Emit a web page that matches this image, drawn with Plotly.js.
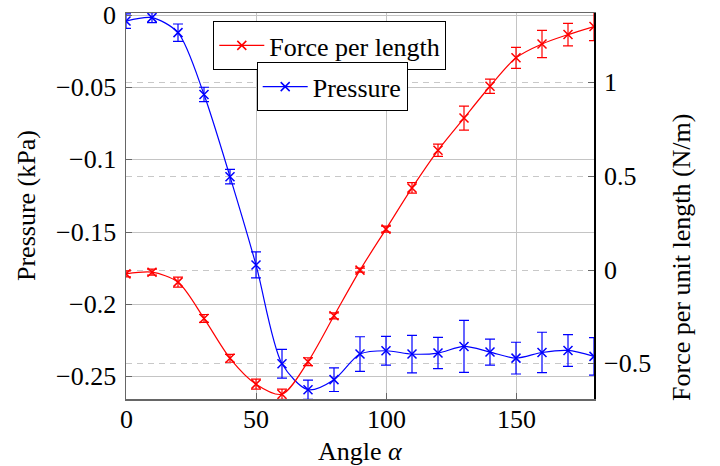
<!DOCTYPE html>
<html>
<head>
<meta charset="utf-8">
<script src="https://cdn.plot.ly/plotly-3.0.1.min.js"></script>
<style>
html,body{margin:0;padding:0;background:#fff;}
#chart{width:720px;height:466px;}
</style>
</head>
<body>
<div id="chart"></div>
<script>
const angle = [0,10,20,30,40,50,60,70,80,90,100,110,120,130,140,150,160,170,180];
const pressure = [-0.004,-0.0016,-0.012,-0.0548,-0.1117,-0.1728,-0.2412,-0.2592,-0.2522,-0.2345,-0.2322,-0.2345,-0.2338,-0.2292,-0.2331,-0.2373,-0.2334,-0.2320,-0.2361];
const pressureErr = [0.005,0.0035,0.006,0.005,0.005,0.009,0.010,0.0066,0.0082,0.012,0.0099,0.013,0.0108,0.018,0.009,0.011,0.014,0.011,0.013];
const force = [-0.02,-0.011,-0.064,-0.258,-0.471,-0.609,-0.663,-0.489,-0.244,0.0,0.219,0.439,0.640,0.812,0.982,1.134,1.208,1.258,1.301];
const forceErr = [0.016,0.016,0.027,0.021,0.021,0.027,0.027,0.021,0.016,0.011,0.016,0.028,0.033,0.064,0.038,0.056,0.073,0.06,0.075];
const xTicks = [0,50,100,150];
const leftTicks = [0,-0.05,-0.1,-0.15,-0.2,-0.25];
const rightTicks = [-0.5,0,0.5,1];
const xTitle = 'Angle <i>α</i>';
const leftTitle = 'Pressure (kPa)';
const rightTitle = 'Force per unit length (N/m)';

const SERIF = 'Liberation Serif';
const FS = 26;
const tf = {family: SERIF, size: FS, color: '#000'};
const fmt = v => String(v).replace('-', '\u2212');

const traces = [
  {
    x: angle, y: pressure, name: 'Pressure', type: 'scatter', mode: 'lines+markers',
    xaxis: 'x', yaxis: 'y', legend: 'legend2',
    line: {color: '#0000ff', width: 1.2, shape: 'spline', smoothing: 0.8},
    marker: {symbol: 'x-thin-open', size: 9, color: '#0000ff', line: {color: '#0000ff', width: 1.5}},
    error_y: {type: 'data', array: pressureErr, visible: true, color: '#0000ff', thickness: 1.2, width: 5}
  },
  {
    x: angle, y: force, name: 'Force per length', type: 'scatter', mode: 'lines+markers',
    xaxis: 'x', yaxis: 'y2', legend: 'legend',
    line: {color: '#ff0000', width: 1.2, shape: 'spline', smoothing: 0.8},
    marker: {symbol: 'x-thin-open', size: 9, color: '#ff0000', line: {color: '#ff0000', width: 1.5}},
    error_y: {type: 'data', array: forceErr, visible: true, color: '#ff0000', thickness: 1.2, width: 5}
  }
];

const PL = 126, PR = 594, PT = 12.7, PB = 399.3;
const pw = PR - PL, ph = PB - PT;
const px = X => (X - PL) / pw;
const py = Y => (PB - Y) / ph;

const annotations = [];
xTicks.forEach(v => annotations.push({text: fmt(v), xref: 'x', x: v, yref: 'paper', y: py(403),
  xanchor: 'center', yanchor: 'top', showarrow: false, font: tf}));
leftTicks.forEach(v => annotations.push({text: fmt(v), xref: 'paper', x: px(118), yref: 'y', y: v,
  xanchor: 'right', yanchor: 'middle', showarrow: false, font: tf}));
rightTicks.forEach(v => annotations.push({text: fmt(v), xref: 'paper', x: px(602), yref: 'y2', y: v,
  xanchor: 'left', yanchor: 'middle', showarrow: false, font: tf}));
annotations.push({text: xTitle, xref: 'paper', x: 0.5, yref: 'paper', y: py(435),
  xanchor: 'center', yanchor: 'top', showarrow: false, font: tf});
annotations.push({text: leftTitle, xref: 'paper', x: px(26), yref: 'paper', y: 0.5,
  xanchor: 'center', yanchor: 'middle', textangle: -90, showarrow: false, font: tf});
annotations.push({text: rightTitle, xref: 'paper', x: px(682), yref: 'paper', y: py(258),
  xanchor: 'center', yanchor: 'middle', textangle: -90, showarrow: false, font: tf});

const layout = {
  width: 720, height: 466,
  margin: {l: PL, r: 720 - PR, t: PT, b: 466 - PB, pad: 0},
  paper_bgcolor: '#fff', plot_bgcolor: '#fff',
  font: {family: 'DejaVu Serif', size: 22, color: '#000'},
  xaxis: {
    range: [0, 180], tickvals: xTicks, showticklabels: false, ticks: 'inside', ticklen: 6, tickcolor: '#666',
    showgrid: true, gridcolor: '#c4c4c4', gridwidth: 1, zeroline: false,
    showline: true, linecolor: '#666', linewidth: 1.5, mirror: true
  },
  yaxis: {
    range: [-0.2656, 0.0016], tickvals: leftTicks, showticklabels: false, ticks: 'inside', ticklen: 6, tickcolor: '#666',
    showgrid: true, gridcolor: '#c4c4c4', gridwidth: 1, zeroline: false,
    showline: true, linecolor: '#666', linewidth: 1.5
  },
  yaxis2: {
    range: [-0.6884, 1.3733], tickvals: rightTicks, showticklabels: false, overlaying: 'y', side: 'right',
    ticks: 'inside', ticklen: 6, tickcolor: '#666',
    showgrid: true, gridcolor: '#c8c8c8', gridwidth: 1, griddash: '6px,5px', zeroline: false,
    showline: true, linecolor: '#000', linewidth: 1.5
  },
  legend: {
    x: px(213.3), y: py(20.7), xanchor: 'left', yanchor: 'top', xref: 'paper', yref: 'paper',
    bgcolor: '#fff', bordercolor: '#000', borderwidth: 1, itemwidth: 45,
    font: tf
  },
  legend2: {
    x: px(256.7), y: py(62), xanchor: 'left', yanchor: 'top', xref: 'paper', yref: 'paper',
    bgcolor: '#fff', bordercolor: '#000', borderwidth: 1, itemwidth: 45,
    font: tf
  },
  annotations: annotations,
  showlegend: true
};

Plotly.newPlot('chart', traces, layout, {displayModeBar: false, staticPlot: true});
</script>
</body>
</html>
